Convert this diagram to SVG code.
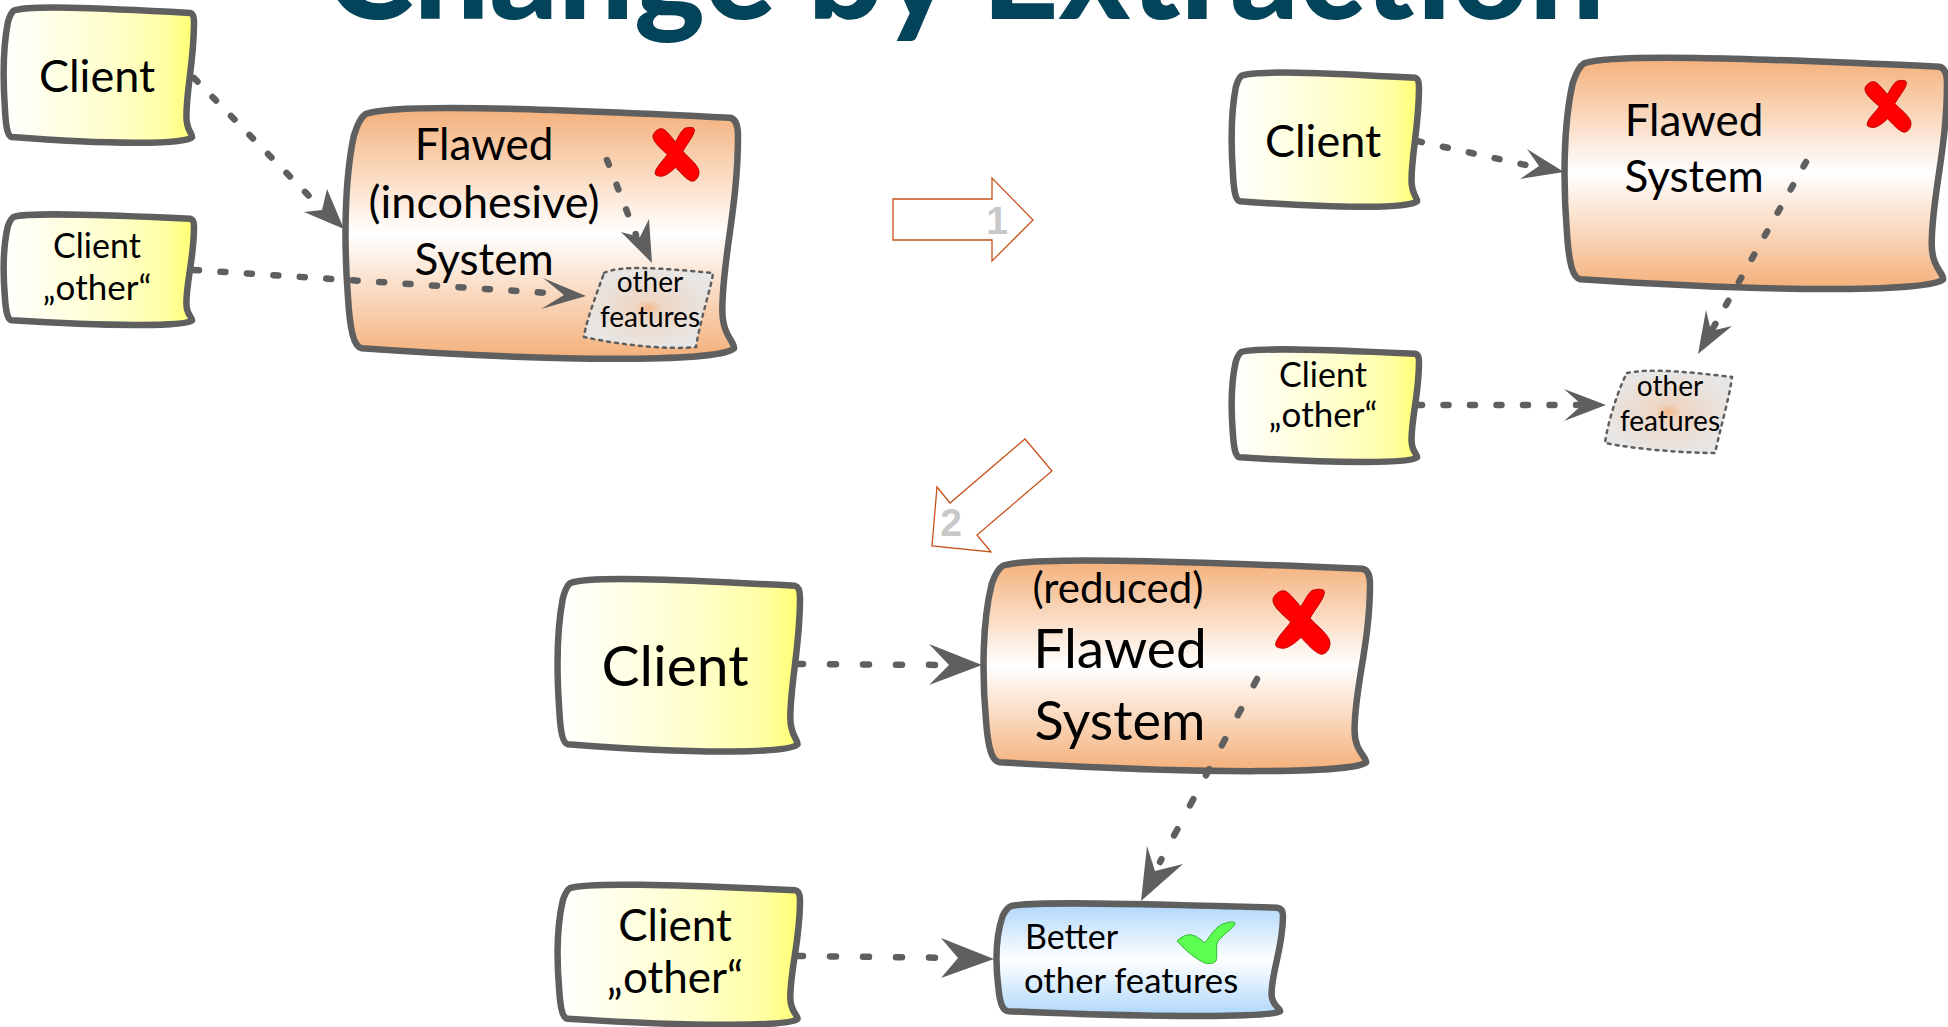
<svg xmlns="http://www.w3.org/2000/svg" width="1948" height="1027" viewBox="0 0 1948 1027">
<defs>
<linearGradient id="y" x1="0" x2="1" y1="0" y2="0"><stop offset="0" stop-color="#fff"/><stop offset=".6" stop-color="#ffffc8"/><stop offset=".85" stop-color="#ffffa4"/><stop offset="1" stop-color="#ffff70"/></linearGradient>
<linearGradient id="o" x1="0" x2="0" y1="0" y2="1"><stop offset="0" stop-color="#f4b07a"/><stop offset=".5" stop-color="#fff"/><stop offset="1" stop-color="#f4b07a"/></linearGradient>
<linearGradient id="b" x1="0" x2="0" y1="0" y2="1"><stop offset="0" stop-color="#aed7fb"/><stop offset=".5" stop-color="#fff"/><stop offset="1" stop-color="#aed7fb"/></linearGradient>
<radialGradient id="g"><stop offset="0" stop-color="#f6b889"/><stop offset=".2" stop-color="#eed6c4"/><stop offset="1" stop-color="#e8e6e4"/></radialGradient>
<path id="note" class="s" d="M5 3.5C12-.5 45 1 98 5C99.5 5.5 100 8 100 12C100 40 96 60 96 80C96 90 99 92 99 95C96 100 60 101 4 95C2 94.5 1 88 .5 75C-.5 55-.5 30 2 12C3 7 4 4.5 5 3.5Z"/>
<path id="cross" class="x" d="M0 14C3 6 14-1 22 2C30 5 42 20 49 26C56 16 63 2 71 0C80-2 92-2 90 5C88 16 72 32 65 44C75 55 100 70 100 83C100 93 92 102 83 100C72 97 58 82 49 74C40 82 26 92 16 91C10 90 3 90 5 83C8 72 24 60 31 50C20 40-2 26 0 14Z"/>
</defs>
<style>
text{font-family:"Lato","Noto Sans",sans-serif;fill:#000;text-anchor:middle}
.t{fill:#04445a;font-weight:900;font-size:134px}
.s{stroke:#5f5f5f;stroke-width:6.5;stroke-linejoin:round;vector-effect:non-scaling-stroke}
.c{fill:none;stroke:#5f5f5f;stroke-width:6.5;stroke-linecap:round;stroke-dasharray:5 21.5}
.a{fill:#5f5f5f}
.x{fill:#f00;stroke:#b00;stroke-width:1;vector-effect:non-scaling-stroke}
.bl{fill:#fff;stroke:#c8521c;stroke-width:1.3}
.n{fill:#c8c8c8;font-family:"Liberation Sans",sans-serif;font-weight:700;font-size:39px}
.d{fill:url(#g);stroke:#5f5f5f;stroke-width:2.5;stroke-linecap:round;stroke-dasharray:3 5}
.l{text-anchor:start}
</style>
<text class="t" x="965" y="19">Change by Extraction</text>
<g id="client1"><use href="#note" fill="url(#y)" transform="translate(4 6) scale(1.9 1.38)"/><text x="97" y="92" font-size="45">Client</text></g>
<g id="other1"><use href="#note" fill="url(#y)" transform="translate(4 213) scale(1.9 1.13)"/><text x="97" y="258" font-size="34">Client</text><text x="97" y="300" font-size="35">„other“</text></g>
<g id="flawed1"><use href="#note" fill="url(#o)" transform="translate(346 105) scale(3.92 2.56)"/><text x="484" y="160" font-size="44">Flawed</text><text x="484" y="218" font-size="45">(incohesive)</text><text x="484" y="275" font-size="44">System</text><use href="#cross" transform="translate(653 128) scale(.46 .53)"/><g id="feat1"><path class="d" d="M604 273C620 265 660 268 713 273C712 285 700 320 696 347C670 350 620 345 584 337C586 320 600 285 604 273Z"/><text x="650" y="292" font-size="28">other</text><text x="650" y="327" font-size="28">features</text></g></g>
<g id="client2"><use href="#note" fill="url(#y)" transform="translate(1232 71) scale(1.87 1.37)"/><text x="1323" y="157" font-size="45">Client</text></g>
<g id="other2"><use href="#note" fill="url(#y)" transform="translate(1232 348) scale(1.87 1.15)"/><text x="1323" y="387" font-size="34">Client</text><text x="1323" y="427" font-size="35">„other“</text></g>
<g id="flawed2"><use href="#note" fill="url(#o)" transform="translate(1565 55) scale(3.82 2.36)"/><text x="1694" y="136" font-size="44">Flawed</text><text x="1694" y="192" font-size="44">System</text><use href="#cross" transform="translate(1865 81) scale(.46 .51)"/></g>
<g id="feat2"><path class="d" d="M1627 373C1650 368 1690 372 1732 377C1730 395 1720 430 1715 453C1690 453 1640 450 1605 443C1608 420 1620 385 1627 373Z"/><text x="1670" y="396" font-size="28">other</text><text x="1670" y="431" font-size="28">features</text></g>
<g id="client3"><use href="#note" fill="url(#y)" transform="translate(558 577) scale(2.42 1.76)"/><text x="675" y="686" font-size="57">Client</text></g>
<g id="other3"><use href="#note" fill="url(#y)" transform="translate(558 883) scale(2.42 1.43)"/><text x="675" y="941" font-size="44">Client</text><text x="675" y="993" font-size="44">„other“</text></g>
<g id="flawed3"><use href="#note" fill="url(#o)" transform="translate(984 558) scale(3.86 2.15)"/><text x="1118" y="603" font-size="42">(reduced)</text><text x="1120" y="668" font-size="55">Flawed</text><text x="1120" y="740" font-size="54">System</text><use href="#cross" transform="translate(1273 590) scale(.57 .64)"/></g>
<g id="better"><use href="#note" fill="url(#b)" transform="translate(997 902) scale(2.86 1.15)"/><text class="l" x="1025" y="949" font-size="34">Better</text><text class="l" x="1024" y="993" font-size="34.7">other features</text><path fill="#5dff50" stroke="#2eb52e" d="M1177 941C1182 936 1188 934 1192 935C1197 936 1201 940 1205 943C1211 934 1216 927 1223 924C1228 922 1234 921 1235 923C1236 926 1226 932 1218 941C1215 946 1218 955 1216 961C1213 964 1208 964 1205 963C1197 960 1186 951 1177 941Z"/></g>
<g id="connectors">
<path class="c" d="M194 78L310 197"/><path class="a" d="M344 229L304 212L322 210L327 189Z"/>
<path class="c" d="M194 270L548 293"/><path class="a" d="M586 296L541 309L564 295L543 278Z"/>
<path class="c" d="M607 160L636 235"/><path class="a" d="M652 263L621 232L640 237L649 219Z"/>
<path class="c" d="M1417 141L1535 167"/><path class="a" d="M1564 172L1520 179L1539 166L1527 149Z"/>
<path class="c" d="M1806 162L1712 330"/><path class="a" d="M1698 354L1706 310L1711 331L1732 326Z"/>
<path class="c" d="M1417 405L1580 405"/><path class="a" d="M1606 405L1564 389L1582 405L1564 421Z"/>
<path class="c" style="stroke-dasharray:6 27" d="M797 664L950 665"/><path class="a" d="M982 665L929 644L949 665L929 685Z"/>
<path class="c" style="stroke-dasharray:7 27" d="M1257 679L1160 862"/><path class="a" d="M1141 901L1147 846L1155 871L1183 864Z"/>
<path class="c" style="stroke-dasharray:6 27" d="M797 956L962 958"/><path class="a" d="M994 959L941 938L958 958L941 978Z"/>
</g>
<g id="step1"><path class="bl" d="M893 199H992V178L1033 220L992 261V240H893Z"/><text class="n" x="997" y="234">1</text></g>
<g id="step2"><path class="bl" d="M1025 439L1052 471L977 535L991 552L932 546L937 487L950 503Z"/><text class="n" x="951" y="536">2</text></g>
</svg>
